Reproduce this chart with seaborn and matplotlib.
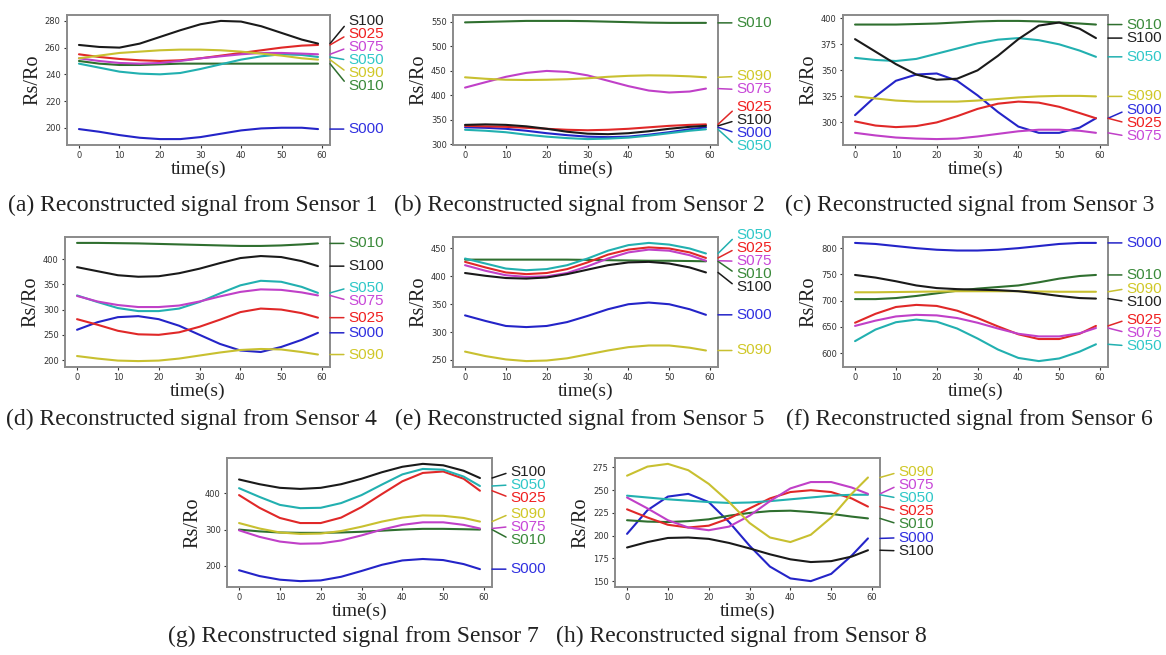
import numpy as np
import pandas as pd
import seaborn as sns
import matplotlib.pyplot as plt

# ==============================
#  DATA
# ==============================
time_s = [0, 5, 10, 15, 20, 25, 30, 35, 40, 45, 50, 55, 59]
gases = ["S000", "S010", "S025", "S050", "S075", "S090", "S100"]

sensor1 = {
    "S000": [199, 197, 194.5, 192.5, 191.5, 191.5, 193, 195.5, 198, 199.5, 200, 200, 199],
    "S010": [250, 248, 247, 247, 247.5, 248, 248, 248, 248, 248, 248, 248, 248],
    "S025": [255, 253, 251.5, 250.5, 250, 250.5, 252, 254, 256, 258, 260, 261.5, 262],
    "S050": [248, 245, 242, 240.5, 240, 241, 244, 247.5, 251, 253.5, 255, 254.5, 253],
    "S075": [252, 250, 248.5, 248, 248.5, 250, 252, 253.5, 255, 256, 256, 255.5, 255],
    "S090": [252, 254, 256, 257, 258, 258.5, 258.5, 258, 257, 255.5, 254, 252, 251],
    "S100": [262, 260.5, 260, 263, 268, 273, 277.5, 280, 279.5, 276, 271, 266, 263],
}
sensor2 = {
    "S000": [335, 334, 332, 328, 323, 319, 316, 315, 316, 320, 325, 331, 335],
    "S010": [549, 550, 551, 552, 552, 552, 551.5, 550.5, 549.5, 548.5, 548, 548, 548],
    "S025": [338, 337, 336, 334, 332, 330, 329, 330, 332, 335, 338, 340, 341],
    "S050": [330, 328, 325, 320, 316, 313, 311, 312, 314, 318, 323, 328, 331],
    "S075": [416, 427, 438, 446, 450, 448, 441, 430, 419, 410, 406, 408, 414],
    "S090": [437, 434, 432, 431.5, 432, 433, 435, 438, 440, 441, 440.5, 439, 437],
    "S100": [340, 341, 340, 337, 332, 326, 322, 321, 323, 327, 332, 336, 338],
}
sensor3 = {
    "S000": [307, 325, 340, 346, 347, 340, 326, 310, 296, 290, 290, 295, 304],
    "S010": [394, 394, 394, 394.5, 395, 396, 397, 397.5, 397.5, 397, 396, 395, 394],
    "S025": [301, 297, 295.5, 296.5, 300, 306, 313, 318, 320, 319, 315, 309, 304],
    "S050": [362, 360, 359, 361, 366, 371, 376, 379.5, 381, 379, 375, 369, 363],
    "S075": [290, 287.5, 285.5, 284.5, 284, 284.5, 286.5, 289, 291.5, 293, 293, 292, 290],
    "S090": [325, 323, 321, 320, 320, 320, 321, 322.5, 324, 325, 325.5, 325.5, 325],
    "S100": [380, 368, 356, 346, 341, 342, 350, 364, 380, 393, 396, 390, 381],
}
sensor4 = {
    "S000": [260, 275, 285, 287, 281, 268, 250, 232, 219, 216, 226, 240, 254],
    "S010": [432, 432, 431.5, 431, 430, 429, 428, 427, 426, 426, 427, 429, 431],
    "S025": [281, 270, 258, 251, 250, 255, 266, 280, 295, 302, 300, 293, 284],
    "S050": [328, 315, 303, 297, 297, 302, 315, 332, 348, 357, 355, 345, 333],
    "S075": [327, 316, 309, 305, 305, 308, 316, 326, 335, 340, 339, 334, 328],
    "S090": [208, 203, 199, 198, 199, 203, 209, 215, 220, 222, 221, 216, 211],
    "S100": [384, 376, 368, 365, 366, 372, 381, 392, 402, 406, 404, 396, 386],
}
sensor5 = {
    "S000": [330, 320, 311, 309, 311, 318, 329, 341, 350, 353, 350, 341, 331],
    "S010": [430, 430, 430, 430, 430, 430, 429.5, 429, 428.5, 428, 428, 427.5, 427],
    "S025": [426, 416, 407, 404, 406, 413, 425, 439, 448, 452, 450, 443, 433],
    "S050": [432, 423, 414, 411, 413, 420, 432, 446, 456, 460, 457, 450, 441],
    "S075": [420, 410, 402, 399, 400, 406, 418, 432, 443, 448, 446, 438, 428],
    "S090": [265, 257, 251, 248, 249, 253, 260, 267, 273, 276, 276, 272, 267],
    "S100": [406, 401, 397, 396, 398, 404, 412, 420, 425, 426, 423, 416, 407],
}
sensor6 = {
    "S000": [810, 808, 804, 800, 797, 795.5, 795.5, 797, 800, 804, 808, 810, 810],
    "S010": [703, 703, 705, 709, 714, 719, 723, 726, 729, 735, 742, 747, 749],
    "S025": [658, 675, 688, 692, 690, 681, 667, 651, 636, 627, 627, 637, 652],
    "S050": [623, 645, 659, 664, 660, 647, 628, 607, 591, 585, 590, 603, 617],
    "S075": [652, 662, 670, 673, 672, 667, 658, 647, 637, 632, 632, 638, 648],
    "S090": [716, 716, 716.5, 717, 717.5, 718, 718, 718, 718, 717.5, 717, 717, 717],
    "S100": [749, 744, 737, 729, 724, 722, 721, 720, 718, 714, 709, 705, 704],
}
sensor7 = {
    "S000": [188, 172, 162, 158, 160, 170, 186, 203, 215, 219, 216, 205, 191],
    "S010": [300, 295, 292, 291, 291, 292, 294, 297, 300, 302, 302, 301, 300],
    "S025": [395, 360, 332, 318, 318, 333, 362, 398, 433, 456, 460, 440, 407],
    "S050": [414, 390, 368, 359, 360, 373, 395, 424, 452, 467, 465, 446, 420],
    "S075": [298, 280, 267, 261, 262, 270, 284, 300, 313, 320, 320, 313, 303],
    "S090": [318, 303, 292, 288, 289, 296, 308, 322, 333, 339, 338, 332, 322],
    "S100": [438, 425, 415, 412, 415, 425, 440, 458, 473, 481, 477, 462, 442],
}
sensor8 = {
    "S000": [202, 228, 243, 246, 237, 215, 189, 166, 153, 150, 158, 178, 197],
    "S010": [217, 215.5, 215, 216, 218, 222, 225, 227, 227.5, 226, 224, 221, 219],
    "S025": [229, 220, 212, 209, 211, 219, 230, 241, 248, 250, 248, 241, 232],
    "S050": [244, 242, 240, 238.5, 237, 236, 236.5, 238, 240, 242, 244, 245, 245],
    "S075": [242, 230, 217, 209, 206, 210, 222, 238, 252, 259, 259, 253, 246],
    "S090": [266, 276, 279, 272, 257, 237, 214, 198, 193, 201, 220, 246, 264],
    "S100": [187, 193, 197.5, 198, 196.5, 192, 186, 179.5, 174, 171, 172, 177, 184],
}
sensors = [sensor1, sensor2, sensor3, sensor4, sensor5, sensor6, sensor7, sensor8]

y_ticks = [
    [200, 220, 240, 260, 280],
    [300, 350, 400, 450, 500, 550],
    [300, 325, 350, 375, 400],
    [200, 250, 300, 350, 400],
    [250, 300, 350, 400, 450],
    [600, 650, 700, 750, 800],
    [200, 300, 400],
    [150, 175, 200, 225, 250, 275],
]
x_ticks = [0, 10, 20, 30, 40, 50, 60]
captions = [f"({c}) Reconstructed signal from Sensor {i + 1}" for i, c in enumerate("abcdefgh")]

# ==============================
#  STYLE
# ==============================
line_colors = {"S000": "#2424c8", "S010": "#2f6f2f", "S025": "#e02828", "S050": "#22b0b0",
               "S075": "#c040c8", "S090": "#c8c030", "S100": "#1a1a1a"}
text_colors = {"S000": "#3030e0", "S010": "#3a8a3a", "S025": "#f02020", "S050": "#30c8c8",
               "S075": "#c848d8", "S090": "#d0c828", "S100": "#222222"}

sns.set_theme(style="white")
plt.rcParams["font.family"] = ["DejaVu Sans"]

W, H = 1166, 655
# axes boxes in pixels: left, top, right, bottom
boxes = [(67, 15, 330, 145), (453, 15, 718, 145), (843, 15, 1108, 145),
         (65, 237, 330, 367), (453, 237, 718, 367), (843, 237, 1108, 367),
         (227, 458, 492, 587), (615, 458, 880, 587)]
caption_y = [205, 205, 205, 419, 419, 419, 636, 636]

fig = plt.figure(figsize=(W / 100, H / 100), dpi=100)


def spread(ys, gap):
    ys = list(ys)
    for _ in range(300):
        for i in range(len(ys) - 1):
            d = ys[i] - ys[i + 1]
            if d < gap:
                ys[i] += (gap - d) / 2
                ys[i + 1] -= (gap - d) / 2
    return ys


for k, sensor in enumerate(sensors):
    l, t, r, b = boxes[k]
    ax = fig.add_axes([l / W, 1 - b / H, (r - l) / W, (b - t) / H])
    df = pd.DataFrame({
        "t": np.tile(time_s, len(gases)),
        "gas": np.repeat(gases, len(time_s)),
        "rs": np.concatenate([sensor[g] for g in gases]),
    })
    sns.lineplot(data=df, x="t", y="rs", hue="gas", palette=line_colors,
                 estimator=None, legend=False, lw=1.5, ax=ax)

    ax.set_xticks(x_ticks)
    ax.set_yticks(y_ticks[k])
    ax.tick_params(bottom=True, left=True, labelsize=6, colors="#333333",
                   length=2.5, width=0.8, pad=2)
    for s in ax.spines.values():
        s.set_color("#8a8a8a")
        s.set_linewidth(1.4)
    ax.set_xlabel("time(s)", family="Liberation Serif", fontsize=14, labelpad=0, color="#222")
    ax.set_ylabel("Rs/Ro", family="Liberation Serif", fontsize=14.5, labelpad=2, color="#222")
    ax.get_ylim()

    # right-hand labels with leader lines
    order = sorted(gases, key=lambda g: -sensor[g][-1])
    ends = [sensor[g][-1] for g in order]
    px = ax.transData.transform([(59, v) for v in ends])[:, 1]
    lab_px = spread(px, 13)
    lab_y = ax.transData.inverted().transform([(0, p) for p in lab_px])[:, 1]
    trans = ax.get_yaxis_transform()
    for g, ve, vl in zip(order, ends, lab_y):
        ax.annotate(g, xy=(1.0, ve), xycoords=trans, xytext=(1.07, vl), textcoords=trans,
                    ha="left", va="center", fontsize=11, family="Liberation Sans",
                    color=text_colors[g], annotation_clip=False,
                    arrowprops=dict(arrowstyle="-", color=line_colors[g], lw=1.1,
                                    shrinkA=1, shrinkB=0, relpos=(0, 0.5)))

    fig.text(((l + r) / 2 - 6) / W, 1 - caption_y[k] / H, captions[k], ha="center",
             va="center", family="Liberation Serif", fontsize=17, color="#222")

fig.savefig("out.png", dpi=100)
